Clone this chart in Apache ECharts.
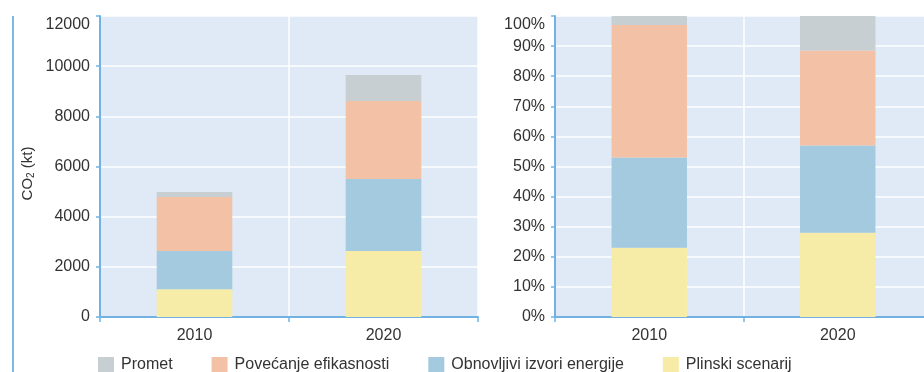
<!DOCTYPE html>
<html>
<head>
<meta charset="utf-8">
<script src="https://cdn.jsdelivr.net/npm/echarts@6/dist/echarts.min.js"></script>
<style>html,body{margin:0;padding:0;background:#fff;}#c{width:924px;height:372px;}</style>
</head>
<body>
<div id="c"></div>
<script>
var categories = ['2010', '2020'];
var seriesNames = ['Promet', 'Povećanje efikasnosti', 'Obnovljivi izvori energije', 'Plinski scenarij'];
// absolute values, kt CO2
var plinskiAbs = [1110, 2630];
var obnovljiviAbs = [1520, 2870];
var povecanjeAbs = [2150, 3110];
var prometAbs = [200, 1040];
// shares, %
var plinskiPct = [23, 28];
var obnovljiviPct = [30, 29];
var povecanjePct = [44, 31.5];
var prometPct = [3, 11.5];
var leftTicks = [0, 2000, 4000, 6000, 8000, 10000, 12000];
var rightTicks = [0, 10, 20, 30, 40, 50, 60, 70, 80, 90, 100];

var colors = {
  'Promet': '#c8cfd3',
  'Povećanje efikasnosti': '#f2c1a6',
  'Obnovljivi izvori energije': '#a3cadf',
  'Plinski scenarij': '#f7eca7'
};
var FONT = "'Liberation Sans', Arial, sans-serif";
var axisBlue = '#72b2e3';
var textCol = '#333333';

function xAxisCfg(idx) {
  return {
    type: 'category', gridIndex: idx, data: categories,
    axisLine: { show: true, lineStyle: { color: axisBlue, width: 2 } },
    axisTick: { show: true, alignWithLabel: false, length: 5, lineStyle: { color: axisBlue, width: 1.5 } },
    axisLabel: { color: textCol, fontSize: 16, fontFamily: FONT, margin: 11 },
    splitLine: { show: true, lineStyle: { color: '#ffffff', width: 1.5 } }
  };
}
function yAxisCfg(idx, max, interval, topLabel, suffix) {
  return {
    type: 'value', gridIndex: idx, min: 0, max: max, interval: interval,
    axisLine: { show: true, lineStyle: { color: axisBlue, width: 2 } },
    axisTick: { show: true, length: 4, lineStyle: { color: axisBlue, width: 1.5 } },
    splitLine: { show: true, lineStyle: { color: '#ffffff', width: 1.5 } },
    axisLabel: {
      color: textCol, fontSize: 16, fontFamily: FONT, margin: 10,
      formatter: function (v) {
        var s = v + suffix;
        return v === topLabel ? '{t|' + s + '}' : s;
      },
      rich: { t: { color: textCol, fontSize: 16, fontFamily: FONT, padding: [18, 0, 0, 0] } }
    }
  };
}

function mkSeries(name, data, idx) {
  return {
    name: name, type: 'bar', stack: 's' + idx, xAxisIndex: idx, yAxisIndex: idx,
    data: data, barWidth: '40%', itemStyle: { color: colors[name] },
    emphasis: { disabled: true }
  };
}

var yLeft = yAxisCfg(0, leftTicks[leftTicks.length - 1], leftTicks[1] - leftTicks[0], 12000, '');
yLeft.name = '{a|CO}{s|2}{e| (kt)}';
yLeft.nameLocation = 'middle';
yLeft.nameRotate = 90;
yLeft.nameGap = 64;
yLeft.nameTextStyle = {
  color: textCol, fontFamily: FONT,
  rich: {
    a: { fontSize: 15, color: textCol, fontFamily: FONT, lineHeight: 17 },
    e: { fontSize: 15, color: textCol, fontFamily: FONT, lineHeight: 17, padding: [0, 14, 0, 0] },
    s: { fontSize: 10, color: textCol, fontFamily: FONT, verticalAlign: 'bottom', lineHeight: 10 }
  }
};
var yRight = yAxisCfg(1, rightTicks[rightTicks.length - 1], rightTicks[1] - rightTicks[0], 100, '%');

var option = {
  animation: false,
  textStyle: { fontFamily: FONT },
  grid: [
    { left: 100, top: 16, width: 378, bottom: 55, show: true, backgroundColor: '#dfeaf6', borderWidth: 0, outerBoundsMode: 'none' },
    { left: 555, top: 16, width: 377, bottom: 55, show: true, backgroundColor: '#dfeaf6', borderWidth: 0, outerBoundsMode: 'none' }
  ],
  xAxis: [xAxisCfg(0), xAxisCfg(1)],
  yAxis: [yLeft, yRight],
  legend: {
    data: seriesNames, left: 98, top: 357, padding: 0, icon: 'rect', itemWidth: 16, itemHeight: 16, itemGap: 39,
    textStyle: { color: textCol, fontSize: 16, fontFamily: FONT, padding: [0, 0, 0, 2] },
    selectedMode: false
  },
  graphic: [{
    type: 'line', shape: { x1: 13, y1: 16, x2: 13, y2: 372 },
    style: { stroke: '#7fb9e6', lineWidth: 2 }
  }],
  series: [
    mkSeries('Plinski scenarij', plinskiAbs, 0),
    mkSeries('Obnovljivi izvori energije', obnovljiviAbs, 0),
    mkSeries('Povećanje efikasnosti', povecanjeAbs, 0),
    mkSeries('Promet', prometAbs, 0),
    mkSeries('Plinski scenarij', plinskiPct, 1),
    mkSeries('Obnovljivi izvori energije', obnovljiviPct, 1),
    mkSeries('Povećanje efikasnosti', povecanjePct, 1),
    mkSeries('Promet', prometPct, 1)
  ]
};
var chart = echarts.init(document.getElementById('c'), null, { renderer: 'canvas' });
chart.setOption(option);
</script>
</body>
</html>
